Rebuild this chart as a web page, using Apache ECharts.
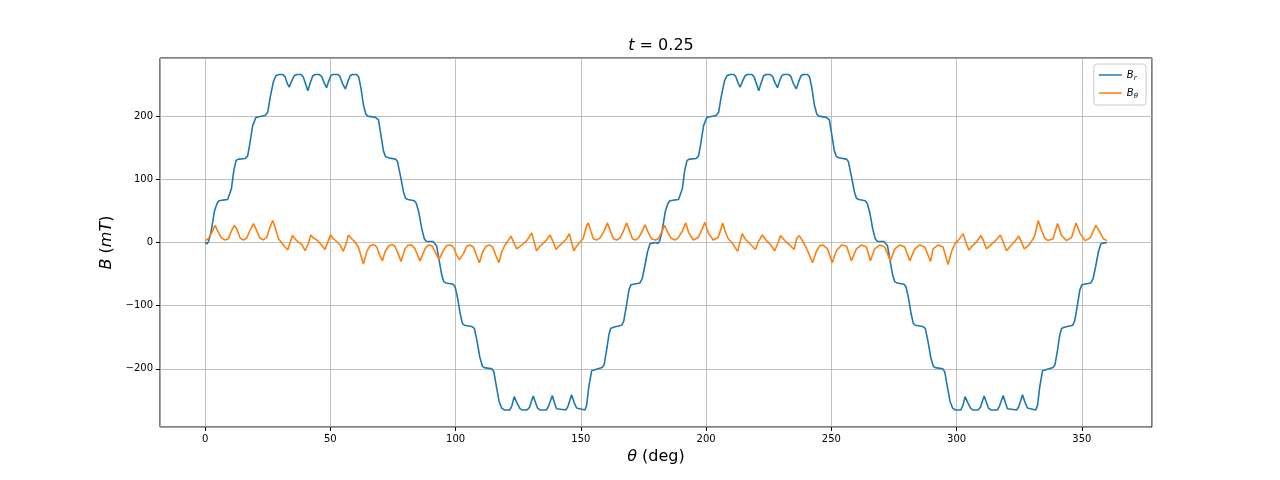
<!DOCTYPE html>
<html>
<head>
<meta charset="utf-8">
<script src="https://cdn.jsdelivr.net/npm/echarts@6/dist/echarts.min.js"></script>
<style>html,body{margin:0;padding:0;background:#fff;}#c{width:1280px;height:480px;}</style>
</head>
<body>
<div id="c"></div>
<script>
// ---- Data: [theta (deg), value (mT)] ----
const brPoints = [
  [0,0],[0.8,-2],[1.5,3],[2.4,17],[3.7,49],[4.8,62],[5.5,66],[7,67],[9,68],[9.7,70],[10.5,85],[11.5,115],[12.4,130],[13.5,132],[16,133],[17,137],[17.8,155],[19,185],[20.3,198],[21.5,199],[24,201],[25,206],[26,230],[27.3,255],[28.3,264],[29.5,266],[31,266],[31.8,263],[32.8,252],[33.6,246],[34.5,255],[35.6,264],[36.5,266],[38.3,266],[39.2,262],[40.2,250],[41,240],[42,253],[43,264],[44,266],[45.5,266],[46.5,263],[47.5,253],[48.5,245],[49.3,255],[50.2,264],[51,266],[53,266],[53.8,263],[54.8,252],[56,243],[57,255],[57.9,264],[58.8,266],[60.5,266],[61.3,262],[62.2,245],[63.2,218],[64.2,203],[65,200],[68,198],[69.2,194],[70.2,170],[71.2,145],[72,136],[73,134],[76,132],[76.8,128],[78,105],[79.2,80],[80,70],[81,68],[83.5,66],[84.3,62],[85.3,48],[86.5,22],[87.5,6],[88.3,2],[91,1.5],
  [91.5,0],[92.4,-5],[93.5,-30],[94.5,-52],[95.3,-62],[96.2,-64],[99,-66],[99.8,-70],[100.8,-88],[101.8,-112],[102.7,-128],[103.5,-131],[106.5,-133],[107.5,-136],[108.5,-155],[109.7,-182],[110.7,-196],[111.5,-198],[114.5,-200],[115.3,-205],[116.3,-228],[117.4,-252],[118.4,-262],[119.5,-265],[121.7,-265],[122.5,-258],[123.4,-244],[124.4,-253],[125.7,-263],[126.5,-265],[128.5,-265],[129.5,-261],[130.3,-251],[131,-243],[131.8,-252],[132.7,-262],[133.7,-265],[136.3,-265],[137.2,-258],[138.6,-242],[139.5,-254],[140.3,-263],[141,-265],[144,-265],[144.8,-260],[145.6,-250],[146.3,-241],[147.3,-253],[148.3,-262],[149,-265],[151.6,-265],[152.3,-258],[153.2,-228],[154.3,-203],[155,-201],[158.5,-198],[159.3,-193],[160.3,-170],[161.2,-146],[161.9,-136],[163,-134],[166.3,-131],[167.1,-125],[168.2,-100],[169.2,-75],[170,-67],[171,-66],[173.6,-64],[174.5,-57],[175.5,-38],[176.6,-15],[177.6,-2],[178.5,-1],
  [180,0],[180.8,-1.5],[181.5,3],[182.4,17],[183.7,49],[184.8,62],[185.5,66],[187,67],[189,68],[189.7,70],[190.5,85],[191.5,115],[192.4,130],[193.5,132],[196,133],[197,137],[197.8,155],[199,185],[200.3,198],[201.5,199],[204,201],[205,206],[206,230],[207.3,255],[208.3,264],[209.5,266],[211,266],[211.8,263],[212.8,252],[213.6,246],[214.5,255],[215.6,264],[216.5,266],[218.3,266],[219.2,262],[220.2,250],[221,240],[222,253],[223,264],[224,266],[225.5,266],[226.5,263],[227.5,253],[228.5,245],[229.3,255],[230.2,264],[231,266],[233,266],[233.8,263],[234.8,252],[236,243],[237,255],[237.9,264],[238.8,266],[240.5,266],[241.3,262],[242.2,245],[243.2,218],[244.2,203],[245,200],[248,198],[249.2,194],[250.2,170],[251.2,145],[252,136],[253,134],[256,132],[256.8,128],[258,105],[259.2,80],[260,70],[261,68],[263.5,66],[264.3,62],[265.3,48],[266.5,22],[267.5,6],[268.3,2],[271,1.5],
  [271.5,0],[272.4,-5],[273.5,-30],[274.5,-52],[275.3,-62],[276.2,-64],[279,-66],[279.8,-70],[280.8,-88],[281.8,-112],[282.7,-128],[283.5,-131],[286.5,-133],[287.5,-136],[288.5,-155],[289.7,-182],[290.7,-196],[291.5,-198],[294.5,-200],[295.3,-205],[296.3,-228],[297.4,-252],[298.4,-262],[299.5,-265],[301.7,-265],[302.5,-258],[303.4,-244],[304.4,-253],[305.7,-263],[306.5,-265],[308.5,-265],[309.5,-261],[310.3,-251],[311,-243],[311.8,-252],[312.7,-262],[313.7,-265],[316.3,-265],[317.2,-258],[318.6,-242],[319.5,-254],[320.3,-263],[321,-265],[324,-265],[324.8,-260],[325.6,-250],[326.3,-241],[327.3,-253],[328.3,-262],[329,-265],[331.6,-265],[332.3,-258],[333.2,-228],[334.3,-203],[335,-201],[338.5,-198],[339.3,-193],[340.3,-170],[341.2,-146],[341.9,-136],[343,-134],[346.3,-131],[347.1,-125],[348.2,-100],[349.2,-75],[350,-67],[351,-66],[353.6,-64],[354.5,-57],[355.5,-38],[356.6,-15],[357.6,-2],[358.5,-1],[360,0]
];

const btPoints = [
  [0,3],[1.3,6],[2.7,16],[4,27],[5.3,16],[6.6,7],[8,4],[9.3,6],[10.6,19],[11.7,27],[12.6,22],[14,7],[15.3,4],[16.6,7],[17.9,19],[19.3,30],[20.6,19],[21.9,7],[23.3,4],[24.6,8],[25.9,24],[27,35],[27.9,24],[29.3,6],[30.6,-0.5],[31.9,-7],[33,-12],
  [34.85,11],[35.9,6],[37.25,0.5],[38.6,-3],[39.9,-13],[41.2,-2],[42.2,12],[43.2,7],[44.6,4],[45.9,-1],[47.9,-11],[49.2,3],[50.1,12],[51.2,6],[52.5,1.6],[53.9,-4],[55.2,-14],[56.5,0.5],[57.2,12],[58.5,6],[59.9,0.5],[61.2,-7],[63.2,-34],
  [64.5,-15],[65.8,-5],[67.2,-3],[68.5,-7],[69.8,-21],[70.8,-29],[71.8,-15],[73.2,-6],[74.5,-3],[75.8,-6],[77.1,-18],[78.2,-30],[79.8,-10],[81.1,-4],[82.5,-4],[83.8,-10],[85.8,-29],[87.8,-10],[89.1,-4],[90.5,-5],[91.8,-15],[93.4,-27],[95.1,-13],[96.4,-5],[97.8,-4],[99.1,-7],[100.4,-20],[101.5,-27],[103.1,-18],[104.4,-6],[105.7,-4],[107.1,-7],[108.4,-21],[109.5,-32],[110.8,-15],[112.1,-6],[113.5,-4],[114.8,-7],[116.1,-21],[117.3,-32],
  [118.4,-15],[119.7,-4],[121,3],[122.1,10],[124.4,-10],[125.7,-6],[127,-2],[128.4,3],[130.4,15],[132.3,-13],[133.7,-6],[135,-1],[136.3,4],[137.7,12],[139,0.5],[140.1,-11],[141.7,-4],[143,0.5],[144.3,6],[145.4,14],[146.3,0.5],[147.2,-13],[148.3,-6],[149.6,0.5],[150.9,6],[152.3,27],[153,31],
  [154,18],[155,6],[156.3,4],[157.6,7],[159.3,18],[160.6,31],[161.8,18],[163,6],[164.3,4],[165.6,7],[167,18],[168.3,31],[169.5,18],[170.6,6],[171.8,4],[173,7],[174.4,17],[175.6,28],[176.9,16],[178.2,6],[179.6,4],[181,6],[182.2,16],[183.4,27],[184.7,16],[186,7],[187.5,4],[188.8,7],[190.5,18],[191.9,31],[193,16],[194.9,4],[196.9,8],[198.3,20],[199.5,32],[200.8,16],[202.8,4],[204.8,8],[205.8,20],[206.6,31],[207.5,19],[208.8,6],[210.2,0.5],
  [212.6,-14],[214.4,14],[215.5,6],[217.5,-2],[219.7,-11],[220.8,0.5],[222.4,12],[224.1,3],[225.8,-4],[227.4,-13],[228.8,0.5],[229.7,11],[231.4,3],[233.4,-4],[235.1,-11],[236.1,6],[237.2,11],[238.8,0.5],[240.5,-13],[242.5,-32],
  [244.1,-13],[245.4,-5],[246.7,-4],[248.5,-10],[250.3,-32],[252,-13],[254.1,-4],[256.1,-6],[258,-29],[260,-10],[262,-4],[264,-7],[265.6,-29],[267.3,-10],[269.3,-4],[271.3,-7],[273.6,-29],[275.3,-10],[277.3,-4],[279.3,-7],[281.3,-29],[283.3,-10],[285.3,-4],[287.3,-7],[289.6,-30],[290.6,-10],[292.6,-4],[294.6,-7],[296.6,-35],
  [297.9,-15],[299.3,-2],[300.6,3],[302.6,14],[303.9,-2],[304.9,-12],[306.6,-4],[307.9,0.5],[309.7,11],[310.6,4],[311.9,-10],[313.3,-5],[315.2,1.6],[317.5,12],[318.6,0.5],[319.9,-13],[321.9,-4],[323.2,1.6],[324.8,10],[325.9,0.5],[327,-10],[328.6,-5],[329.9,1.6],[331.2,11],[332.6,35],
  [333.9,19],[335.2,7],[336.5,3],[338.5,6],[340.3,30],[341.9,11],[343.9,3],[345.9,8],[347.7,31],[349.3,14],[351.3,3],[353.3,7],[355.6,27],[357.2,16],[358.6,6],[360,3]
];

const xRange = [-18, 378];
const yRange = [-292, 292];
const seriesNames = ['Br', 'Bθ'];

const FONT = 'DejaVu Sans';
const chart = echarts.init(document.getElementById('c'), null, {renderer: 'canvas'});
const minus = v => String(v).replace('-', '\u2212');

chart.setOption({
  animation: false,
  backgroundColor: '#ffffff',
  title: {
    text: '{i|t} = 0.25',
    left: 656, top: 33, textAlign: 'center',
    textStyle: {
      fontFamily: FONT, fontSize: 16, fontWeight: 'normal', color: '#000',
      rich: { i: { fontFamily: FONT, fontSize: 16, fontStyle: 'italic', color: '#000' } }
    }
  },
  legend: {
    orient: 'vertical',
    right: 134, top: 64,
    padding: [6, 8, 5, 5],
    itemGap: 6,
    itemWidth: 23, itemHeight: 10,
    borderColor: '#cccccc', borderWidth: 1, borderRadius: 3,
    backgroundColor: '#ffffff',
    data: seriesNames.map(n => ({ name: n, icon: 'path://M0,5 L23,5 L23,6.5 L0,6.5 Z' })),
    formatter: function (name) {
      return name === 'Br' ? '{b|B}{s|r}' : '{b|B}{s|θ}';
    },
    textStyle: {
      fontFamily: FONT, fontSize: 10, color: '#000',
      rich: {
        b: { fontFamily: FONT, fontSize: 10, fontStyle: 'italic', color: '#000', lineHeight: 14, verticalAlign: 'middle' },
        s: { fontFamily: FONT, fontSize: 7, fontStyle: 'italic', color: '#000', lineHeight: 14, verticalAlign: 'bottom' }
      }
    }
  },
  grid: {
    left: 160, right: 128, top: 58, bottom: 53,
    show: true, borderColor: '#000', borderWidth: 1, containLabel: false
  },
  xAxis: {
    type: 'value',
    min: xRange[0], max: xRange[1],
    splitNumber: 8,
    name: '{i|θ} (deg)',
    nameLocation: 'middle', nameGap: 22,
    nameTextStyle: {
      fontFamily: FONT, fontSize: 16, color: '#000',
      rich: { i: { fontFamily: FONT, fontSize: 16, fontStyle: 'italic', color: '#000' } }
    },
    axisLine: { show: false, onZero: false },
    axisTick: { show: true, length: 4, lineStyle: { color: '#000', width: 1 } },
    axisLabel: {
      showMinLabel: false, showMaxLabel: false, margin: 7,
      fontFamily: FONT, fontSize: 10, color: '#000',
      formatter: v => (v % 50 === 0 ? minus(v) : '')
    },
    splitLine: { show: true, lineStyle: { color: '#b0b0b0', width: 0.8 } }
  },
  yAxis: {
    type: 'value',
    min: yRange[0], max: yRange[1],
    splitNumber: 6,
    name: '{i|B} ({i|mT})',
    nameLocation: 'middle', nameGap: 43,
    nameTextStyle: {
      fontFamily: FONT, fontSize: 16, color: '#000',
      rich: { i: { fontFamily: FONT, fontSize: 16, fontStyle: 'italic', color: '#000' } }
    },
    axisLine: { show: false, onZero: false },
    axisTick: { show: true, length: 4, lineStyle: { color: '#000', width: 1 } },
    axisLabel: {
      showMinLabel: false, showMaxLabel: false, margin: 7,
      fontFamily: FONT, fontSize: 10, color: '#000',
      formatter: v => (v % 100 === 0 ? minus(v) : '')
    },
    splitLine: { show: true, lineStyle: { color: '#b0b0b0', width: 0.8 } }
  },
  series: [
    {
      name: seriesNames[0], type: 'line', data: brPoints,
      symbol: 'none', showSymbol: false, sampling: null,
      lineStyle: { color: '#1f77b4', width: 1.6 }, itemStyle: { color: '#1f77b4' },
      z: 2
    },
    {
      name: seriesNames[1], type: 'line', data: btPoints,
      symbol: 'none', showSymbol: false, sampling: null,
      lineStyle: { color: '#ff7f0e', width: 1.6 }, itemStyle: { color: '#ff7f0e' },
      z: 3
    }
  ]
});
</script>
</body>
</html>
